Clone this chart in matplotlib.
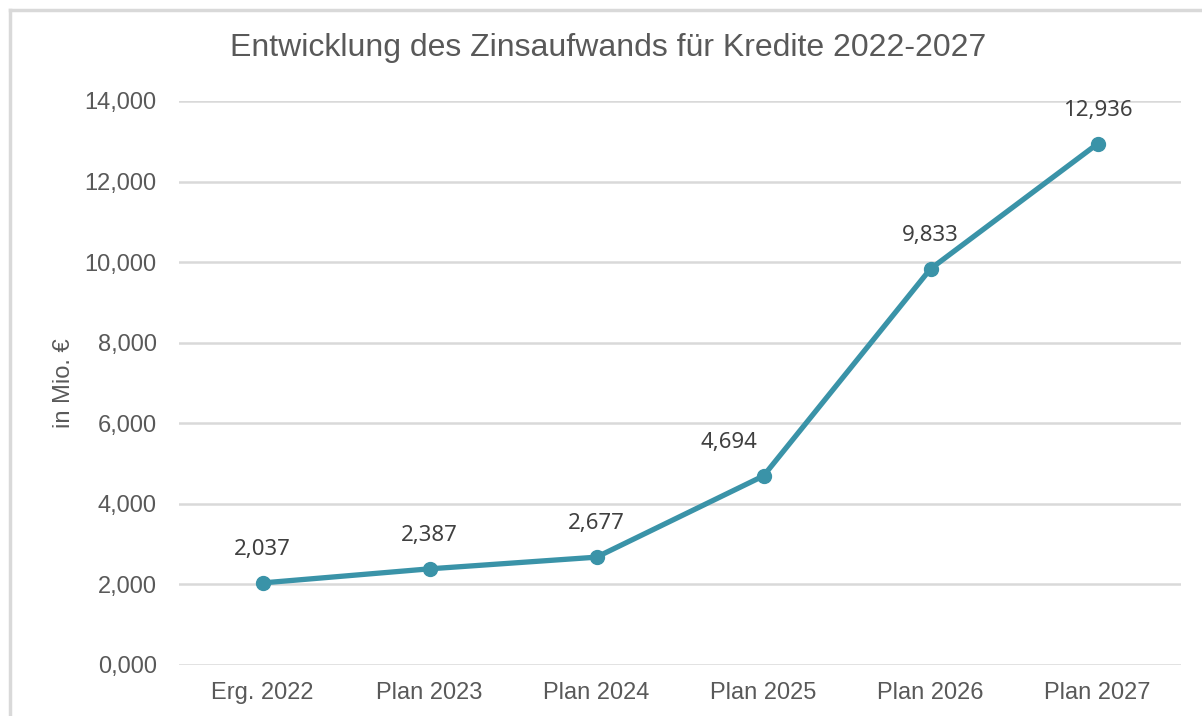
import matplotlib
matplotlib.use('Agg')
from matplotlib import pyplot as plt
from matplotlib.lines import Line2D

categories = ['Erg. 2022', 'Plan 2023', 'Plan 2024', 'Plan 2025', 'Plan 2026', 'Plan 2027']
values = [2.037, 2.387, 2.677, 4.694, 9.833, 12.936]
value_labels = ['2,037', '2,387', '2,677', '4,694', '9,833', '12,936']
ytick_vals = [0, 2, 4, 6, 8, 10, 12, 14]
ytick_labels = ['0,000', '2,000', '4,000', '6,000', '8,000', '10,000', '12,000', '14,000']
label_dx = [0, 0, 0, -25, 0, 0]  # label nudges in points

plt.rcParams['font.family'] = ['Liberation Sans', 'DejaVu Sans']
text_col = '#595959'
line_col = '#3a93a8'

fig = plt.figure(figsize=(12.02, 7.16), dpi=100)
ax = fig.add_axes([179/1202, 51/716, (1181-179)/1202, (665-101)/716])

x = list(range(len(categories)))
ax.plot(x, values, color=line_col, lw=3.8, marker='o', ms=10, zorder=3,
        solid_capstyle='round')

for xi, v, lab, dx in zip(x, values, value_labels, label_dx):
    ax.annotate(lab, (xi, v), xytext=(dx, 24), textcoords='offset points',
                ha='center', va='center', fontsize=16, color='#404040',
                family=['Noto Sans', 'DejaVu Sans'])

ax.set_xlim(-0.5, 5.5)
ax.set_ylim(0, 14)
ax.set_yticks(ytick_vals)
ax.set_yticklabels(ytick_labels)
ax.set_xticks(x)
ax.set_xticklabels(categories)
ax.tick_params(axis='y', length=0, pad=16, labelsize=17, labelcolor=text_col)
ax.tick_params(axis='x', length=0, pad=12, labelsize=17, labelcolor=text_col)
ax.grid(axis='y', color='#d9d9d9', lw=1.8)
ax.set_axisbelow(True)
for s in ax.spines.values():
    s.set_visible(False)

ax.set_ylabel('in Mio. €', fontsize=17, color=text_col)
ax.yaxis.set_label_coords(-0.104, 0.5)

fig.text(608/1202, 1 - 48/716, 'Entwicklung des Zinsaufwands für Kredite 2022-2027',
         ha='center', va='center', fontsize=23, color=text_col)

# outer chart frame (top and left edges visible)
fig.add_artist(Line2D([10/1202, 10/1202], [0, 1 - 10/716], color='#d9d9d9', lw=2.5,
                      transform=fig.transFigure))
fig.add_artist(Line2D([10/1202, 1], [1 - 10/716, 1 - 10/716], color='#d9d9d9', lw=2.5,
                      transform=fig.transFigure))

fig.savefig('out.png', dpi=100)
